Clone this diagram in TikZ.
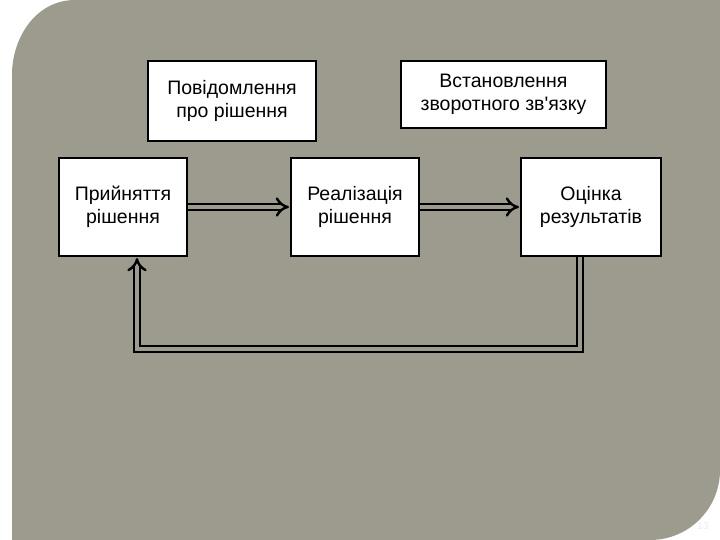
\documentclass[tikz,border=0pt]{standalone}
\usepackage{fontspec}
\setmainfont{Liberation Sans}
\usetikzlibrary{arrows.meta}
\definecolor{bg}{RGB}{156,155,141}
\begin{document}
\begin{tikzpicture}[x=1pt,y=-1pt,
  box/.style={draw=black,line width=2pt,fill=white,align=center,font=\fontsize{19.5}{23}\selectfont,inner sep=0pt},
  dbl/.style={double=bg,draw=black,line width=2.4pt,double distance=4pt,-{Implies},shorten >=1pt}]
\useasboundingbox (0,0) rectangle (720,540);
\fill[white] (0,0) rectangle (720,540);
\fill[bg]
  (12,540) -- (12,75) to[out=90,in=180] (75,0) -- (720,0) -- (720,470) to[out=-90,in=0] (650,540) -- cycle;
\node[box,minimum width=168pt,minimum height=80pt,anchor=north west] (pov) at (147,60) {Повідомлення\\про рішення};
\node[box,minimum width=205pt,minimum height=67pt,anchor=north west] (vst) at (400,60) {Встановлення\\зворотного зв\textquotesingle язку};
\node[box,minimum width=128pt,minimum height=98pt,anchor=north west] (pry) at (58,157) {Прийняття\\рішення};
\node[box,minimum width=128pt,minimum height=98pt,anchor=north west] (rea) at (290,157) {Реалізація\\рішення};
\node[box,minimum width=140pt,minimum height=98pt,anchor=north west] (ocn) at (520,157) {Оцінка\\результатів};
\draw[dbl] (pry.east) -- (rea.west);
\draw[dbl] (rea.east) -- (ocn.west);
\coordinate (c1) at (580,349);
\coordinate (c2) at (137,349);
\draw[dbl] (ocn.south -| c1) -- (c1) -- (c2) -- (pry.south -| c2);
\node[text=white!85!gray,font=\fontsize{10}{12}\selectfont] (pg) at (703,526) {13};
\end{tikzpicture}
\end{document}
